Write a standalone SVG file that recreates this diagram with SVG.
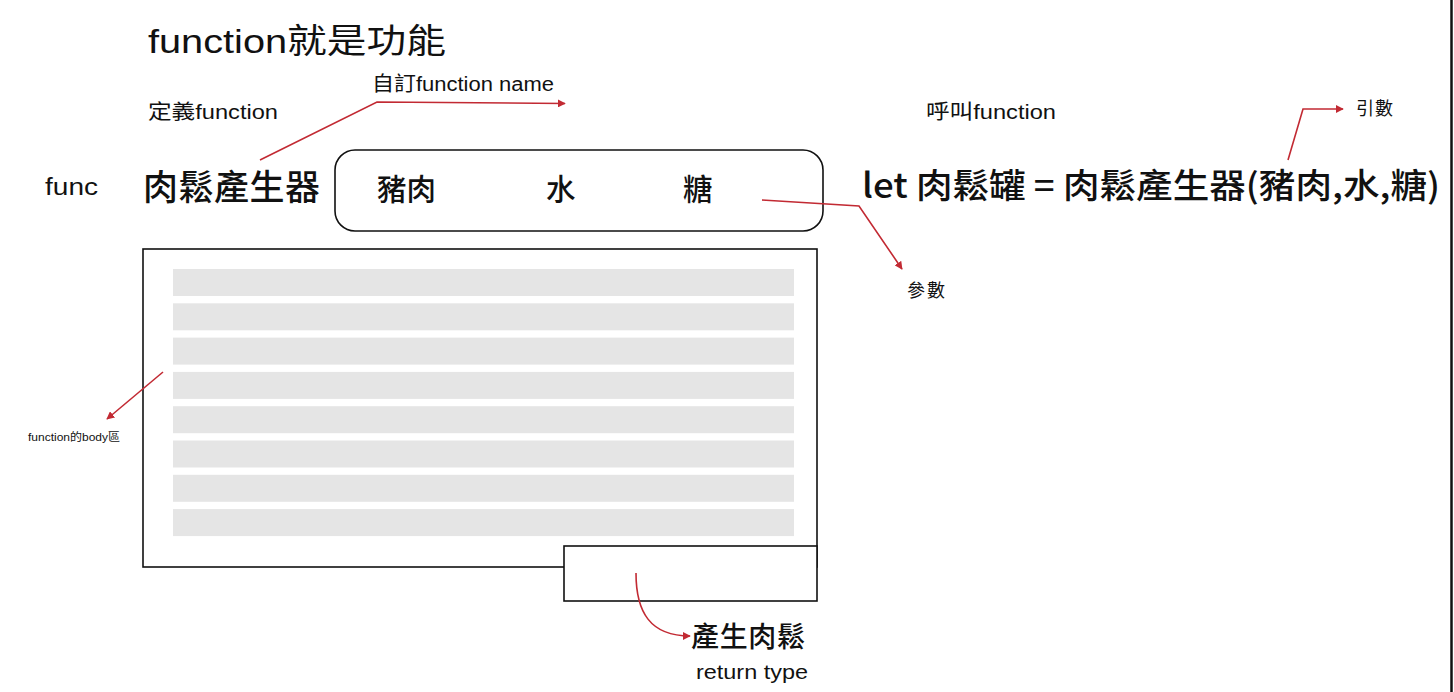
<svg xmlns="http://www.w3.org/2000/svg" width="1454" height="692" viewBox="0 0 1454 692">
<style>
text{font-family:"Liberation Sans","Noto Sans CJK TC",sans-serif;fill:#111}
.cjk{font-family:"Noto Sans CJK TC","Liberation Sans",sans-serif}
.b{font-weight:500}
.bar{fill:#e5e5e5}
.box{fill:#fff;stroke:#111;stroke-width:1.6}
.red{fill:none;stroke:#c22a33;stroke-width:1.6}
</style>
<defs>
<marker id="ah" viewBox="0 0 10 10" refX="9" refY="5" markerWidth="8" markerHeight="8" markerUnits="userSpaceOnUse" orient="auto">
<path d="M0,0 L10,5 L0,10 z" fill="#c22a33"/>
</marker>
</defs>
<rect width="1454" height="692" fill="#fff"/>
<line x1="1451.5" y1="0" x2="1451.5" y2="692" stroke="#111" stroke-width="2.5"/>

<g id="title"><text x="148" y="53" font-size="34" textLength="298" lengthAdjust="spacingAndGlyphs">function就是功能</text></g>
<g id="define-label"><text x="148" y="119" font-size="20" textLength="130" lengthAdjust="spacingAndGlyphs">定義function</text></g>
<g id="name-label"><text x="372" y="91" font-size="20" textLength="182" lengthAdjust="spacingAndGlyphs">自訂function name</text></g>
<g id="call-label"><text x="926" y="119" font-size="20" textLength="130" lengthAdjust="spacingAndGlyphs">呼叫function</text></g>
<g id="arg-label"><text x="1356" y="115" font-size="18" class="cjk" textLength="37">引數</text></g>
<g id="func"><text x="45" y="195" font-size="23" textLength="53" lengthAdjust="spacingAndGlyphs">func</text></g>
<g id="fname"><text x="143" y="200" font-size="35" class="cjk b" textLength="177">肉鬆產生器</text></g>

<g id="params">
<rect x="335" y="150" width="488" height="81" rx="20" class="box"/>
<text x="377" y="200" font-size="29.5" class="cjk b" textLength="59">豬肉</text>
<text x="546" y="200" font-size="29.5" class="cjk b">水</text>
<text x="683" y="200" font-size="29.5" class="cjk b">糖</text>
</g>

<g id="call"><text x="862" y="198" font-size="34" class="cjk b" textLength="578" lengthAdjust="spacingAndGlyphs">let 肉鬆罐 = 肉鬆產生器(豬肉,水,糖)</text></g>
<g id="param-label"><text x="907" y="297" font-size="18" class="cjk" textLength="38">參數</text></g>

<g id="body">
<rect x="143" y="249" width="674" height="318" class="box"/>
<rect x="173" y="269" width="621" height="27" class="bar"/>
<rect x="173" y="303.3" width="621" height="27" class="bar"/>
<rect x="173" y="337.6" width="621" height="27" class="bar"/>
<rect x="173" y="371.9" width="621" height="27" class="bar"/>
<rect x="173" y="406.2" width="621" height="27" class="bar"/>
<rect x="173" y="440.5" width="621" height="27" class="bar"/>
<rect x="173" y="474.8" width="621" height="27" class="bar"/>
<rect x="173" y="509.1" width="621" height="27" class="bar"/>
</g>
<g id="body-label"><text x="28" y="441" font-size="11" textLength="92" lengthAdjust="spacingAndGlyphs">function的body區</text></g>

<g id="return-box"><rect x="564" y="546" width="253" height="55" class="box" stroke-width="2"/></g>
<g id="return-label">
<text x="691" y="647" font-size="28" class="cjk b" textLength="114">產生肉鬆</text>
<text x="696" y="679" font-size="20" textLength="112" lengthAdjust="spacingAndGlyphs">return type</text>
</g>

<g id="connectors">
<polyline class="red" points="260,160 377,102 565,103.5" marker-end="url(#ah)"/>
<polyline class="red" points="762,200 859,206 902,269" marker-end="url(#ah)"/>
<polyline class="red" points="1288,160 1303,109 1343,109" marker-end="url(#ah)"/>
<line class="red" x1="163" y1="372" x2="107" y2="419" marker-end="url(#ah)"/>
<path class="red" d="M636,573 C636,612 650,636 690,636" marker-end="url(#ah)"/>
</g>
</svg>
